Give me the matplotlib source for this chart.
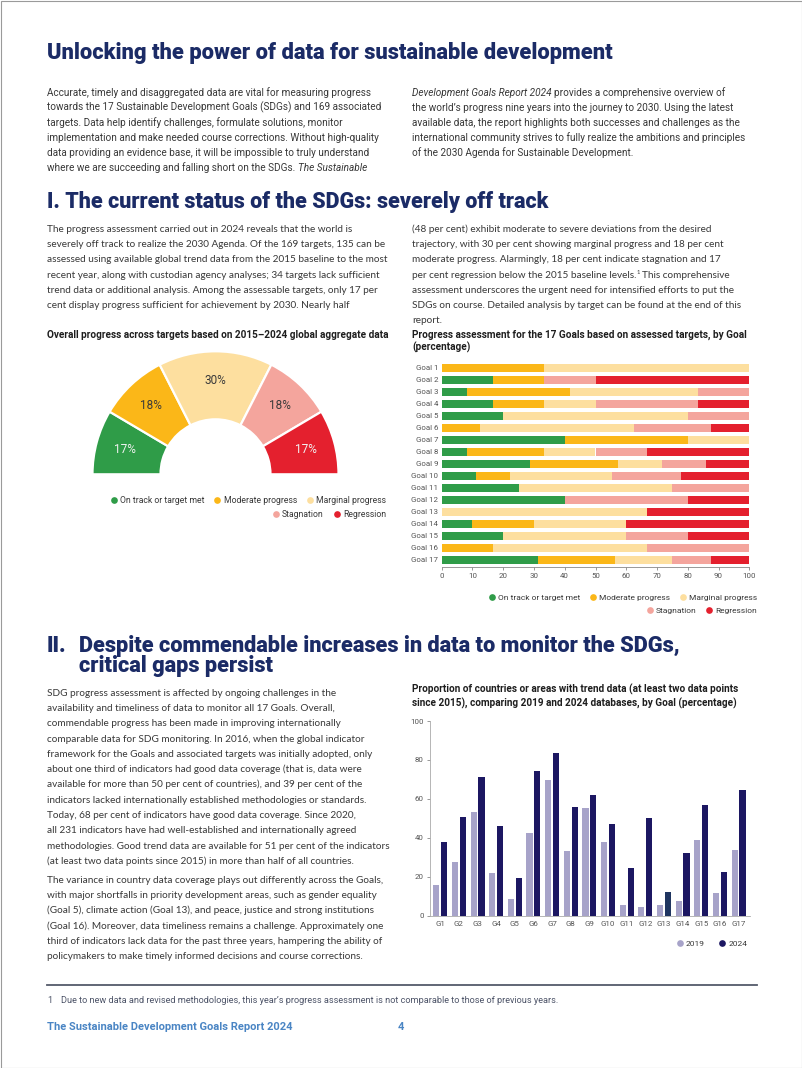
import math
import matplotlib
matplotlib.use('Agg')
import matplotlib.pyplot as plt
from matplotlib import font_manager as fm
from matplotlib.patches import Rectangle

# ---------------- data ----------------
status_categories = ['On track or target met', 'Moderate progress', 'Marginal progress',
                     'Stagnation', 'Regression']
overall_progress = [17, 18, 30, 18, 17]

goal_labels = ['Goal %d' % i for i in range(1, 18)]
on_track   = [0, 16.7, 8.3, 16.7, 20, 0, 40, 8.3, 28.6, 11.1, 25, 40, 0, 10, 20, 0, 31.25]
moderate   = [33.3, 16.7, 33.3, 16.7, 0, 12.5, 40, 25, 28.6, 11.1, 0, 0, 0, 20, 0, 16.7, 25]
marginal   = [66.7, 0, 41.7, 16.7, 60, 50, 20, 16.7, 14.3, 33.3, 50, 0, 66.7, 30, 40, 50, 18.75]
stagnation = [0, 16.7, 16.7, 33.3, 20, 25, 0, 16.7, 14.3, 22.2, 25, 40, 0, 0, 20, 33.3, 12.5]
regression = [0, 50, 0, 16.7, 0, 12.5, 0, 33.3, 14.3, 22.2, 0, 20, 33.3, 40, 20, 0, 12.5]
pct_ticks = [0, 10, 20, 30, 40, 50, 60, 70, 80, 90, 100]

goal_short = ['G%d' % i for i in range(1, 18)]
years = ['2019', '2024']
trend_2019 = [15.7, 27.4, 53.0, 21.9, 8.5, 42.4, 69.7, 33.3, 55.3, 37.6, 5.6, 4.3, 5.6, 7.2, 39.0, 11.6, 33.7]
trend_2024 = [37.6, 50.6, 71.2, 46.2, 19.1, 74.1, 83.6, 56.0, 62.1, 46.8, 24.6, 50.3, 12.3, 32.0, 56.6, 22.6, 64.5]
trend_ticks = [0, 20, 40, 60, 80, 100]

# ---------------- styles ----------------
status_colors = ['#2f9c48', '#fbb718', '#fddf9f', '#f4a59d', '#e4202e']
year_colors = ['#a7a3c9', '#1c1762']
g13_color = '#1f3560'
NAVY = '#1b2b66'
TXT = '#383838'
AX = '#555555'

names = {f.name for f in fm.fontManager.ttflist}
NARROW = 'Liberation Sans Narrow' if 'Liberation Sans Narrow' in names else 'Roboto'
BODY = 'Lato'
HEAD = 'Roboto'
HW = 900
CH = 'Roboto'

W, H = 802, 1068
fig = plt.figure(figsize=(W / 100, H / 100), dpi=100)
fig.patch.set_facecolor('white')
R = fig.canvas.get_renderer()
ov = fig.add_axes([0, 0, 1, 1])
ov.set_xlim(0, W)
ov.set_ylim(H, 0)
ov.set_autoscale_on(False)
ov.axis('off')
PT = 100 / 72.0


def tw(s, **kw):
    t = ov.text(0, 0, s, **kw)
    w = t.get_window_extent(R).width
    t.remove()
    return w


def adv(s, **kw):
    return tw('|' + s + '|', **kw) - tw('||', **kw)


def fitsize(s, target, **kw):
    return 10 * target / tw(s, fontsize=10, **kw)


def px_axes(x0, y0, x1, y1):
    return fig.add_axes([x0 / W, 1 - y1 / H, (x1 - x0) / W, (y1 - y0) / H])


def runs(x, yc, segs, size, fam, color=TXT):
    if isinstance(segs, str):
        segs = [(segs, 'n')]
    yb = yc + 0.36 * size * PT
    for s, kind in segs:
        kw = dict(fontsize=size, family=fam, color=color)
        if kind == 'i':
            kw['style'] = 'italic'
        yy = yb
        if kind == 'sup':
            kw['fontsize'] = size * 0.6
            yy = yb - 0.38 * size * PT
        lead = len(s) - len(s.lstrip(' '))
        x0 = x + (adv(' ' * lead, **kw) if lead else 0)
        ov.text(x0, yy, s.strip(' '), va='baseline', ha='left', **kw)
        x += adv(s, **kw)


def paragraph(x, y0, step, lines, size, fam, color=TXT):
    for i, ln in enumerate(lines):
        runs(x, y0 + i * step, ln, size, fam, color)


def legend_row(x_right, yc, labels, colors, size, fam, d=6.7, gt=3.0, gi=9.3):
    widths = [tw(l, fontsize=size, family=fam) for l in labels]
    total = sum(d + gt + w for w in widths) + gi * (len(labels) - 1)
    x = x_right - total
    for l, c, w in zip(labels, colors, widths):
        ov.scatter([x + d / 2], [yc], s=(d * 0.72) ** 2, color=c, marker='o', linewidths=0, zorder=3)
        ov.text(x + d + gt, yc + 0.36 * size * PT, l, va='baseline', ha='left', fontsize=size,
                family=fam, color=TXT)
        x += d + gt + w + gi


# ---------------- headings ----------------
title = 'Unlocking the power of data for sustainable development'
hs = fitsize(title, 565, family=HEAD, weight=HW)
ov.text(47, 59, title, fontsize=hs, family=HEAD, weight=HW, color=NAVY, va='baseline')
h1 = 'I. The current status of the SDGs: severely off track'
hs1 = fitsize(h1, 501, family=HEAD, weight=HW)
ov.text(47, 208, h1, fontsize=hs1, family=HEAD, weight=HW, color=NAVY, va='baseline')
h2a = 'Despite commendable increases in data to monitor the SDGs,'
hs2 = fitsize(h2a, 599, family=HEAD, weight=HW)
ov.text(47, 652, 'II.', fontsize=hs2, family=HEAD, weight=HW, color=NAVY, va='baseline')
ov.text(79, 652, h2a, fontsize=hs2, family=HEAD, weight=HW, color=NAVY, va='baseline')
ov.text(79, 672, 'critical gaps persist', fontsize=hs2, family=HEAD, weight=HW, color=NAVY,
        va='baseline')

# ---------------- intro paragraph ----------------
p1_left = [
    'Accurate, timely and disaggregated data are vital for measuring progress',
    'towards the 17 Sustainable Development Goals (SDGs) and 169 associated',
    'targets. Data help identify challenges, formulate solutions, monitor',
    'implementation and make needed course corrections. Without high-quality',
    'data providing an evidence base, it will be impossible to truly understand',
    [('where we are succeeding and falling short on the SDGs.', 'n'), (' The Sustainable', 'i')],
]
p1_right = [
    [('Development Goals Report 2024', 'i'), (' provides a comprehensive overview of', 'n')],
    'the world\u2019s progress nine years into the journey to 2030. Using the latest',
    'available data, the report highlights both successes and challenges as the',
    'international community strives to fully realize the ambitions and principles',
    'of the 2030 Agenda for Sustainable Development.',
]
ns = fitsize(p1_left[0], 324, family=NARROW)
paragraph(47, 92, 15, p1_left, ns, NARROW)
paragraph(412, 92, 15, p1_right, ns, NARROW)

# ---------------- section I text ----------------
s1_left = [
    'The progress assessment carried out in 2024 reveals that the world is',
    'severely off track to realize the 2030 Agenda. Of the 169 targets, 135 can be',
    'assessed using available global trend data from the 2015 baseline to the most',
    'recent year, along with custodian agency analyses; 34 targets lack sufficient',
    'trend data or additional analysis. Among the assessable targets, only 17 per',
    'cent display progress sufficient for achievement by 2030. Nearly half',
]
s1_right = [
    '(48 per cent) exhibit moderate to severe deviations from the desired',
    'trajectory, with 30 per cent showing marginal progress and 18 per cent',
    'moderate progress. Alarmingly, 18 per cent indicate stagnation and 17',
    [('per cent regression below the 2015 baseline levels.', 'n'), ('1', 'sup'), (' This comprehensive', 'n')],
    'assessment underscores the urgent need for intensified efforts to put the',
    'SDGs on course. Detailed analysis by target can be found at the end of this',
    'report.',
]
bs = fitsize(s1_left[0], 305, family=BODY)
paragraph(47, 228, 15.3, s1_left, bs, BODY)
paragraph(412, 228, 15.3, s1_right, bs, BODY)

# ---------------- section II text ----------------
s2_p1 = [
    'SDG progress assessment is affected by ongoing challenges in the',
    'availability and timeliness of data to monitor all 17 Goals. Overall,',
    'commendable progress has been made in improving internationally',
    'comparable data for SDG monitoring. In 2016, when the global indicator',
    'framework for the Goals and associated targets was initially adopted, only',
    'about one third of indicators had good data coverage (that is, data were',
    'available for more than 50 per cent of countries), and 39 per cent of the',
    'indicators lacked internationally established methodologies or standards.',
    'Today, 68 per cent of indicators have good data coverage. Since 2020,',
    'all 231 indicators have had well-established and internationally agreed',
    'methodologies. Good trend data are available for 51 per cent of the indicators',
    '(at least two data points since 2015) in more than half of all countries.',
]
s2_p2 = [
    'The variance in country data coverage plays out differently across the Goals,',
    'with major shortfalls in priority development areas, such as gender equality',
    '(Goal 5), climate action (Goal 13), and peace, justice and strong institutions',
    '(Goal 16). Moreover, data timeliness remains a challenge. Approximately one',
    'third of indicators lack data for the past three years, hampering the ability of',
    'policymakers to make timely informed decisions and course corrections.',
]
paragraph(47, 692, 15.3, s2_p1, bs, BODY)
paragraph(47, 879, 15.3, s2_p2, bs, BODY)

# ---------------- chart titles ----------------
t_g = 'Overall progress across targets based on 2015\u20132024 global aggregate data'
cs = fitsize(t_g, 339, family=CH, weight='bold')
ck = dict(fontsize=cs, family=CH, weight='bold', color='#1e1e1e', va='baseline')
ov.text(47, 338, t_g, **ck)
ov.text(412, 338, 'Progress assessment for the 17 Goals based on assessed targets, by Goal', **ck)
ov.text(412, 351, '(percentage)', **ck)
ov.text(412, 693, 'Proportion of countries or areas with trend data (at least two data points', **ck)
ov.text(412, 707, 'since 2015), comparing 2019 and 2024 databases, by Goal (percentage)', **ck)

# ---------------- gauge chart ----------------
cx, cy, Rg = 215.5, 474.3, 123.0
axg = px_axes(cx - Rg, cy - Rg, cx + Rg, cy + Rg)
wedges, _ = axg.pie(overall_progress + [sum(overall_progress)],
                    colors=status_colors + ['white'], startangle=180, counterclock=False,
                    radius=1, wedgeprops=dict(width=0.553, edgecolor='white', linewidth=1.6))
wedges[-1].set_visible(False)
axg.set_xlim(-1, 1)
axg.set_ylim(-1, 1)
axg.axis('off')
gl = fitsize('30%', 21.7, family=CH)
tot = 2.0 * sum(overall_progress)
cum = 0
for v, c in zip(overall_progress, status_colors):
    ang = math.radians(180 - (cum + v / 2) / tot * 360)
    col = '#f2f2f2' if c in (status_colors[0], status_colors[4]) else '#3a3a3a'
    axg.text(0.765 * math.cos(ang), 0.765 * math.sin(ang), '%d%%' % v, ha='center', va='center',
             fontsize=gl, family=CH, color=col)
    cum += v

ls = fitsize(status_categories[0], 84, family=CH)
legend_row(386, 500, status_categories[:3], status_colors[:3], ls, CH)
legend_row(386, 514, status_categories[3:], status_colors[3:], ls, CH)

# ---------------- stacked bar chart ----------------
axs = px_axes(441.7, 360.8, 749.3, 567.2)
ypos = list(range(len(goal_labels)))
left = [0] * len(goal_labels)
for vals, c in zip([on_track, moderate, marginal, stagnation, regression], status_colors):
    axs.barh(ypos, vals, left=left, height=0.68, color=c, linewidth=0)
    left = [a + b for a, b in zip(left, vals)]
axs.set_xlim(0, 100)
axs.set_ylim(16.6, -0.6)
axs.set_yticks(ypos)
tk = fitsize('Goal 10', 26.7, family=CH)
axs.set_yticklabels(goal_labels, fontsize=tk, family=CH, color=AX)
axs.tick_params(axis='y', length=0, pad=2.4)
axs.set_xticks(pct_ticks)
axs.set_xticklabels([str(v) for v in pct_ticks], fontsize=tk, family=CH, color=AX)
axs.tick_params(axis='x', length=2.5, width=0.6, color='#888888', pad=2)
for sp in ['top', 'right', 'left']:
    axs.spines[sp].set_visible(False)
axs.spines['bottom'].set_color('#888888')
axs.spines['bottom'].set_linewidth(0.6)
axs.set_facecolor('none')
ls2 = fitsize(status_categories[0], 81.7, family=CH)
legend_row(757.5, 597, status_categories[:3], status_colors[:3], ls2, CH)
legend_row(757.5, 610, status_categories[3:], status_colors[3:], ls2, CH)

# ---------------- grouped bar chart ----------------
axb = px_axes(430, 721, 749.7, 915.5)
xs = list(range(len(goal_short)))
axb.bar([x - 0.21 for x in xs], trend_2019, width=0.33, color=year_colors[0], linewidth=0)
bars24 = axb.bar([x + 0.21 for x in xs], trend_2024, width=0.33, color=year_colors[1], linewidth=0)
bars24[goal_short.index('G13')].set_color(g13_color)
axb.set_xlim(-0.55, 16.6)
axb.set_ylim(0, 100)
axb.set_yticks(trend_ticks)
axb.set_yticklabels([str(v) for v in trend_ticks], fontsize=tk, family=CH, color=AX)
axb.set_xticks(xs)
axb.set_xticklabels(goal_short, fontsize=tk, family=CH, color=AX)
axb.tick_params(axis='y', length=2.5, width=0.6, color='#888888', pad=2)
axb.tick_params(axis='x', length=0, pad=4)
for sp in ['top', 'right']:
    axb.spines[sp].set_visible(False)
for sp in ['left', 'bottom']:
    axb.spines[sp].set_color('#aaaaaa')
    axb.spines[sp].set_linewidth(0.6)
axb.set_facecolor('none')
legend_row(747.3, 943, years, year_colors, ls2, CH, gi=14)

# ---------------- footnote / footer ----------------
ov.plot([47, 757], [985, 985], color='#545a6a', linewidth=1.3)
fs = fitsize('Due to new data and revised methodologies, this year\u2019s progress assessment is not '
             'comparable to those of previous years.', 497, family=NARROW)
ov.text(47, 1000 + 0.36 * fs * PT, '1', fontsize=fs, family=NARROW, color='#4d5468', va='baseline')
ov.text(61, 1000 + 0.36 * fs * PT, 'Due to new data and revised methodologies, this year\u2019s progress '
        'assessment is not comparable to those of previous years.', fontsize=fs, family=NARROW,
        color='#4d5468', va='baseline')
foot = 'The Sustainable Development Goals Report 2024'
ffs = fitsize(foot, 246, family=CH, weight='bold')
ov.text(47, 1030, foot, fontsize=ffs, family=CH, weight='bold', color='#4a85c4', va='baseline')
ov.text(398, 1030, '4', fontsize=ffs, family=CH, weight='bold', color='#4a85c4', va='baseline')

ov.add_patch(Rectangle((0.5, 0.5), W - 1, H - 1, fill=False, edgecolor='#9a9a9a', linewidth=0.8))

fig.savefig('out.png', dpi=100, facecolor='white')
